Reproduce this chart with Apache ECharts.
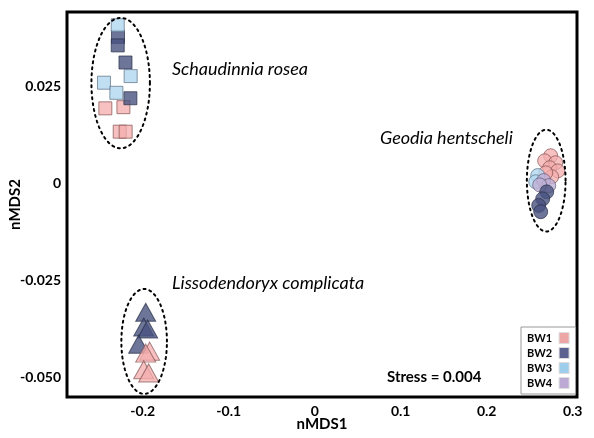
<!DOCTYPE html>
<html>
<head>
<meta charset="utf-8">
<script src="https://cdn.jsdelivr.net/npm/echarts@6/dist/echarts.min.js"></script>
<style>html,body{margin:0;padding:0;background:#fff}#c{width:594px;height:438px}</style>
</head>
<body>
<div id="c"></div>
<script>
// ---- data (nMDS1, nMDS2) ----
var groups = ['BW1', 'BW2', 'BW3', 'BW4'];
var xTicks = [-0.2, -0.1, 0, 0.1, 0.2, 0.3];
var yTicks = [-0.05, -0.025, 0, 0.025];
var yTickLabels = ['-0.050', '-0.025', '0', '0.025'];
var xTickLabels = ['-0.2', '-0.1', '0', '0.1', '0.2', '0.3'];

// Schaudinnia rosea (squares)
var schaudinnia_BW1 = [[-0.2434, 0.0194], [-0.2224, 0.0197], [-0.2267, 0.0134], [-0.2198, 0.0134]];
var schaudinnia_BW2 = [[-0.2287, 0.0378], [-0.2290, 0.0356], [-0.2200, 0.0312], [-0.2143, 0.0220]];
var schaudinnia_BW3 = [[-0.2290, 0.0408], [-0.2140, 0.0277], [-0.2450, 0.0260], [-0.2306, 0.0234]];

// Geodia hentscheli (circles)
var geodia_BW1 = [[0.2744, 0.0072], [0.2674, 0.0059], [0.2802, 0.0054], [0.2733, 0.0041], [0.2826, 0.0033], [0.2756, 0.0018], [0.2686, 0.0028]];
var geodia_BW3 = [[0.2593, 0.0021], [0.2570, 0.0005]];
var geodia_BW4 = [[0.2663, 0.0008], [0.2721, -0.0005], [0.2616, -0.0003]];
var geodia_BW2 = [[0.2698, -0.0021], [0.2651, -0.0039], [0.2605, -0.0056], [0.2628, -0.0072]];

// Lissodendoryx complicata (triangles)
var lisso_BW2 = [[-0.1965, -0.0331], [-0.1988, -0.0369], [-0.1942, -0.0374], [-0.2047, -0.0413]];
var lisso_BW1 = [[-0.1919, -0.0431], [-0.1965, -0.0436], [-0.1988, -0.0479], [-0.1930, -0.0487]];

// cluster ellipses: [centerX, centerY, radiusX, radiusY]
var ellipses = [[-0.2256, 0.0259, 0.0340, 0.0168], [0.2692, 0.0008, 0.0225, 0.0131], [-0.1983, -0.0406, 0.0265, 0.0135]];

var fills = {BW1: 'rgba(244,172,172,0.75)', BW2: 'rgba(72,82,128,0.8)', BW3: 'rgba(178,215,240,0.8)', BW4: 'rgba(190,176,214,0.8)'};
var legendFill = {BW1: '#eea5a5', BW2: '#5b6290', BW3: '#9fcdec', BW4: '#bdaad4'};
var borders = {BW1: 'rgba(130,80,80,0.7)', BW2: 'rgba(40,45,70,0.7)', BW3: 'rgba(90,110,130,0.7)', BW4: 'rgba(100,90,120,0.7)'};

function sc(name, data, symbol, size) {
  return {
    type: 'scatter', name: name, data: data, symbol: symbol, symbolSize: size,
    itemStyle: {color: fills[name], borderColor: borders[name], borderWidth: 1, opacity: 1},
    emphasis: {disabled: true}, z: 3
  };
}

var chart = echarts.init(document.getElementById('c'), null, {renderer: 'canvas'});
var font = 'Lato, "Open Sans", sans-serif';

var series = [
  sc('BW1', schaudinnia_BW1, 'rect', 13),
  sc('BW2', schaudinnia_BW2, 'rect', 13),
  sc('BW3', schaudinnia_BW3, 'rect', 13),
  sc('BW1', geodia_BW1, 'circle', 14),
  sc('BW3', geodia_BW3, 'circle', 14),
  sc('BW4', geodia_BW4, 'circle', 14),
  sc('BW2', geodia_BW2, 'circle', 14),
  sc('BW2', lisso_BW2, 'triangle', [20, 18]),
  sc('BW1', lisso_BW1, 'triangle', [20, 18]),
  {
    type: 'custom', name: 'ellipse', data: ellipses, encode: {x: 0, y: 1}, z: 4, silent: true, clip: false,
    renderItem: function (params, api) {
      var cx = api.value(0), cy = api.value(1), rx = api.value(2), ry = api.value(3);
      var pts = [];
      for (var i = 0; i <= 120; i++) {
        var t = i / 120 * Math.PI * 2;
        pts.push(api.coord([cx + rx * Math.cos(t), cy + ry * Math.sin(t)]));
      }
      return {type: 'polyline', shape: {points: pts}, style: {fill: null, stroke: '#000', lineWidth: 2, lineDash: [2, 4], lineCap: 'round'}};
    }
  }
];

chart.setOption({
  animation: false,
  backgroundColor: '#fff',
  grid: {left: 67, right: 17, top: 12, bottom: 41, show: true, borderColor: '#000', borderWidth: 3, backgroundColor: 'transparent', containLabel: false, outerBoundsMode: 'none'},
  xAxis: {
    type: 'value', min: -0.288, max: 0.305,
    name: 'nMDS1', nameLocation: 'middle', nameGap: 20, nameMoveOverlap: false,
    nameTextStyle: {fontFamily: font, fontWeight: 'bold', fontSize: 15, color: '#000'},
    axisLine: {show: false}, axisTick: {show: false}, splitLine: {show: false},
    axisLabel: {
      customValues: xTicks, margin: 7, color: '#000', fontFamily: font, fontWeight: 'bold', fontSize: 14,
      formatter: function (v) { var i = xTicks.findIndex(function (t) { return Math.abs(t - v) < 1e-9; }); return i >= 0 ? xTickLabels[i] : ''; }
    }
  },
  yAxis: {
    type: 'value', min: -0.0549, max: 0.0442,
    name: 'nMDS2', nameLocation: 'middle', nameGap: 44, nameMoveOverlap: false,
    nameTextStyle: {fontFamily: font, fontWeight: 'bold', fontSize: 15, color: '#000'},
    axisLine: {show: false}, axisTick: {show: false}, splitLine: {show: false},
    axisLabel: {
      customValues: yTicks, margin: 6, color: '#000', fontFamily: font, fontWeight: 'bold', fontSize: 14,
      formatter: function (v) { var i = yTicks.findIndex(function (t) { return Math.abs(t - v) < 1e-9; }); return i >= 0 ? yTickLabels[i] : ''; }
    }
  },
  legend: {
    data: groups.map(function (g) { return {name: g, icon: 'rect', itemStyle: {color: legendFill[g], borderColor: '#ddd', borderWidth: 1}}; }),
    orient: 'vertical', left: 521, top: 327, align: 'right',
    itemWidth: 10, itemHeight: 11, itemGap: 3,
    padding: [5, 6, 5, 6],
    borderColor: '#999', borderWidth: 1, backgroundColor: '#fff',
    textStyle: {fontFamily: font, fontWeight: 'bold', fontSize: 11, color: '#000', padding: [0, 2, 0, 0]},
    selectedMode: false
  },
  graphic: [
    {type: 'text', left: 172, top: 60, style: {text: 'Schaudinnia rosea', font: 'italic 18px ' + font, fill: '#000'}},
    {type: 'text', left: 380, top: 129, style: {text: 'Geodia hentscheli', font: 'italic 18px ' + font, fill: '#000'}},
    {type: 'text', left: 172, top: 274, style: {text: 'Lissodendoryx complicata', font: 'italic 18px ' + font, fill: '#000'}},
    {type: 'text', left: 387, top: 370, style: {text: 'Stress = 0.004', font: 'bold 15px ' + font, fill: '#000'}}
  ],
  series: series
});
</script>
</body>
</html>
